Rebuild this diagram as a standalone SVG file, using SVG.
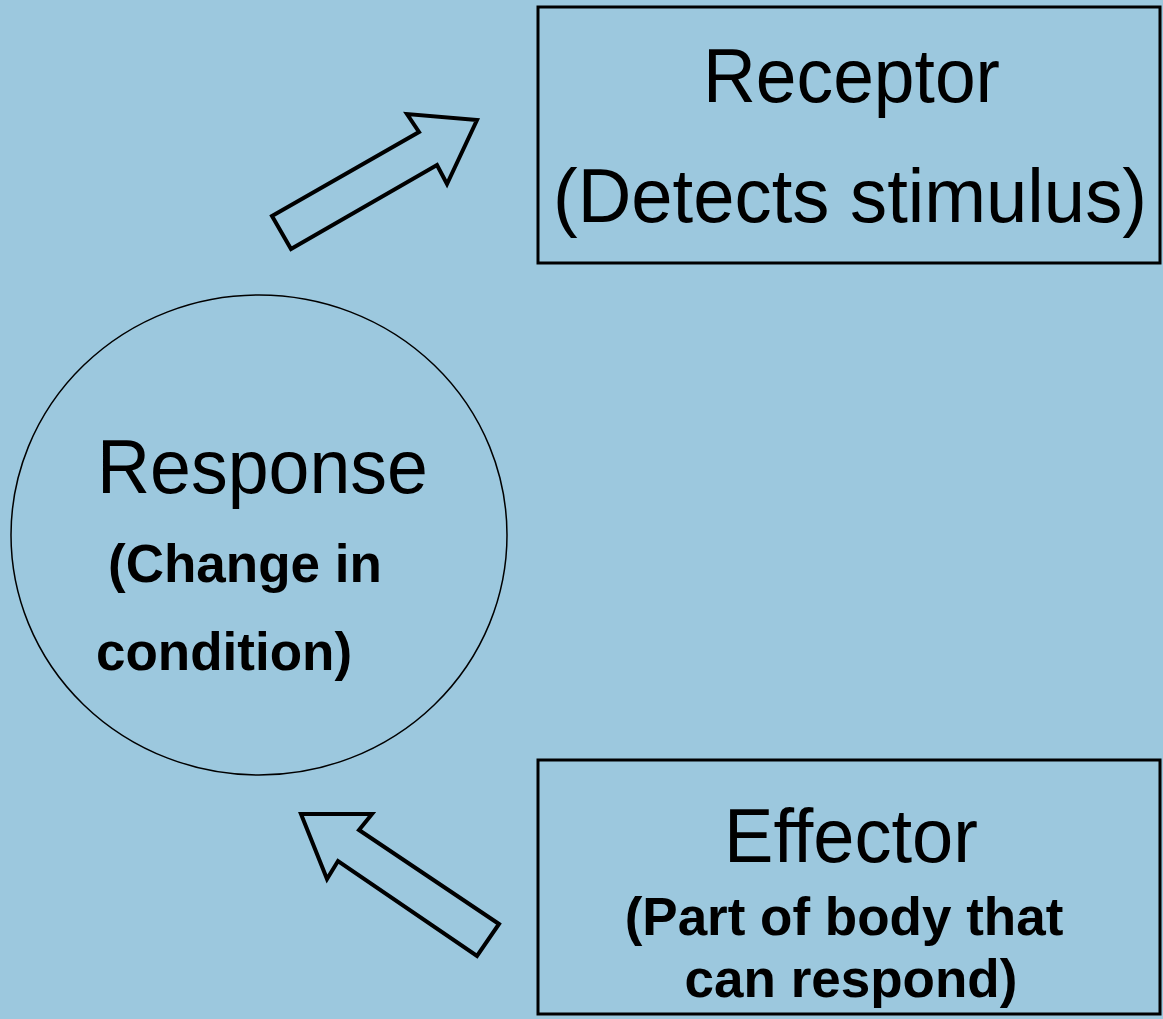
<svg xmlns="http://www.w3.org/2000/svg" width="1163" height="1019" viewBox="0 0 1163 1019">
  <style>
    .box { fill: none; stroke: #000; stroke-width: 3; }
    .ring { fill: none; stroke: #000; stroke-width: 1.5; }
    .blockarrow { fill: none; stroke: #000; stroke-width: 4; stroke-linejoin: miter; }
    .big { font-family: "Liberation Sans", Arial, sans-serif; font-size: 76px; fill: #000; text-anchor: middle; }
    .sub { font-family: "Liberation Sans", Arial, sans-serif; font-size: 53px; font-weight: bold; fill: #000; }
  </style>
  <rect width="1163" height="1019" fill="#9cc8de"/>

  <g id="receptor">
    <rect class="box" x="538" y="7" width="622" height="256"/>
    <text class="big" x="851.5" y="102" textLength="297" lengthAdjust="spacingAndGlyphs">Receptor</text>
    <text class="big" x="850" y="222" textLength="594" lengthAdjust="spacingAndGlyphs">(Detects stimulus)</text>
  </g>

  <g id="response">
    <ellipse class="ring" cx="259" cy="535" rx="248" ry="240"/>
    <text class="big" x="262.5" y="493" textLength="331" lengthAdjust="spacingAndGlyphs">Response</text>
    <text class="sub" x="108" y="582">(Change in</text>
    <text class="sub" x="96" y="670">condition)</text>
  </g>

  <g id="effector">
    <rect class="box" x="538" y="760" width="622" height="254"/>
    <text class="big" x="851" y="862" textLength="254" lengthAdjust="spacingAndGlyphs">Effector</text>
    <text class="sub" x="844" y="935" text-anchor="middle">(Part of body that</text>
    <text class="sub" x="851" y="997" text-anchor="middle">can respond)</text>
  </g>

  <g id="connectors">
    <polygon class="blockarrow" points="272,216 419,132 407,114 477,120 447,184 437,165 291,249"/>
    <polygon class="blockarrow" points="499,924 359,830 372,814 301,814 327,879 338,861 477,956"/>
  </g>
</svg>
